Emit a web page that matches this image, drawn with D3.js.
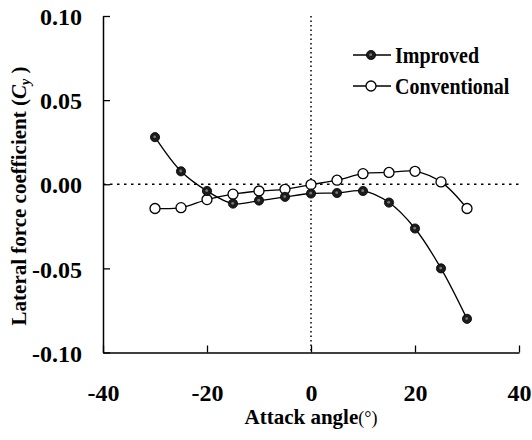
<!DOCTYPE html>
<html>
<head>
<meta charset="utf-8">
<script src="https://cdn.jsdelivr.net/npm/d3@7"></script>
<style>
  html, body { margin: 0; padding: 0; background: #fff; }
  svg { display: block; }
  text { font-family: "Liberation Serif", "Times New Roman", serif; font-weight: bold; fill: #000; }
</style>
</head>
<body>
<script>
// ---- data ----
const angles = [-30, -25, -20, -15, -10, -5, 0, 5, 10, 15, 20, 25, 30];
const improved = [0.028, 0.0077, -0.004, -0.0115, -0.0097, -0.0075, -0.0055, -0.0052, -0.004, -0.0109, -0.0263, -0.050, -0.080];
const conventional = [-0.0144, -0.0139, -0.0091, -0.0059, -0.004, -0.003, -0.0002, 0.0024, 0.0063, 0.007, 0.0077, 0.0014, -0.0144];
const xTicks = [-40, -20, 0, 20, 40];
const yTicks = [-0.10, -0.05, 0.00, 0.05, 0.10];
const seriesNames = ["Improved", "Conventional"];
const xTitle = "Attack angle";
const yTitle = "Lateral force coefficient";

// ---- layout ----
const W = 532, H = 440;
const mLeft = 103, mRight = 519, mTop = 16, mBottom = 352.5;

const svg = d3.select("body").append("svg").attr("width", W).attr("height", H);

const x = d3.scaleLinear().domain([-40, 40]).range([mLeft, mRight]);
const y = d3.scaleLinear().domain([-0.10, 0.10]).range([mBottom, mTop]);

// reference lines
svg.append("line")
  .attr("x1", x(-40)).attr("x2", x(40)).attr("y1", y(0)).attr("y2", y(0))
  .attr("stroke", "#000").attr("stroke-width", 1.6).attr("stroke-dasharray", "2.5,4.5");
svg.append("line")
  .attr("x1", x(0)).attr("x2", x(0)).attr("y1", y(0.10)).attr("y2", y(-0.10))
  .attr("stroke", "#000").attr("stroke-width", 1.5).attr("stroke-dasharray", "1.5,3");

// axes
const xAxis = d3.axisBottom(x).tickValues(xTicks).tickSizeInner(-7).tickSizeOuter(0).tickFormat(d3.format("d"));
const gx = svg.append("g").attr("transform", `translate(0,${mBottom})`).call(xAxis);
gx.select(".domain").attr("stroke", "#000").attr("stroke-width", 1.5);
gx.selectAll(".tick line").attr("stroke", "#000").attr("stroke-width", 1.3);
gx.selectAll(".tick text")
  .attr("font-size", 24).attr("font-family", "Liberation Serif").attr("font-weight", "bold")
  .attr("dy", null).attr("y", 48)
  .text(d => d < 0 ? "-" + Math.abs(d) : d);

const yAxis = d3.axisLeft(y).tickValues(yTicks).tickSizeInner(-7).tickSizeOuter(0).tickFormat(d3.format(".2f"));
const gy = svg.append("g").attr("transform", `translate(${mLeft},0)`).call(yAxis);
gy.select(".domain").attr("stroke", "#000").attr("stroke-width", 1.5);
gy.selectAll(".tick line").attr("stroke", "#000").attr("stroke-width", 1.3);
gy.selectAll(".tick text")
  .attr("font-size", 24).attr("font-family", "Liberation Serif").attr("font-weight", "bold")
  .attr("x", -21).attr("dy", "0.36em")
  .text(d => d < 0 ? "-" + Math.abs(d).toFixed(2) : d.toFixed(2));

// curves
const line = d3.line().x(d => x(d[0])).y(d => y(d[1])).curve(d3.curveCatmullRom.alpha(0.5));
const impData = angles.map((a, i) => [a, improved[i]]);
const conData = angles.map((a, i) => [a, conventional[i]]);

svg.append("path").attr("d", line(conData)).attr("fill", "none").attr("stroke", "#000").attr("stroke-width", 1.3);
svg.append("path").attr("d", line(impData)).attr("fill", "none").attr("stroke", "#000").attr("stroke-width", 1.3);

function filledMarker(g, cx, cy) {
  g.append("circle").attr("cx", cx).attr("cy", cy).attr("r", 4.6).attr("fill", "#1c1c1c").attr("stroke", "#000").attr("stroke-width", 0.8);
  g.append("circle").attr("cx", cx - 0.3).attr("cy", cy - 0.3).attr("r", 1.4).attr("fill", "#777");
}
function openMarker(g, cx, cy) {
  g.append("circle").attr("cx", cx).attr("cy", cy).attr("r", 5).attr("fill", "#fff").attr("stroke", "#000").attr("stroke-width", 1.3);
}

const gc = svg.append("g");
conData.forEach(d => openMarker(gc, x(d[0]), y(d[1])));
const gi = svg.append("g");
impData.forEach(d => filledMarker(gi, x(d[0]), y(d[1])));

// legend
const lg = svg.append("g");
const legendRows = [
  { name: seriesNames[0], cy: 55, kind: "filled" },
  { name: seriesNames[1], cy: 86, kind: "open" }
];
legendRows.forEach(r => {
  lg.append("line").attr("x1", 353).attr("x2", 391).attr("y1", r.cy).attr("y2", r.cy)
    .attr("stroke", "#000").attr("stroke-width", 1.3);
  if (r.kind === "filled") filledMarker(lg, 371, r.cy); else openMarker(lg, 371, r.cy);
  lg.append("text").attr("x", 395).attr("y", r.cy + 8)
    .attr("font-size", 20).attr("transform", `translate(0,${r.cy + 8}) scale(1,1.12) translate(0,${-(r.cy + 8)})`)
    .text(r.name);
});

// x title
const xt = svg.append("text").attr("x", 311).attr("y", 424).attr("text-anchor", "middle").attr("font-size", 21);
xt.append("tspan").text(xTitle);
xt.append("tspan").attr("font-weight", "normal").attr("font-size", 18).text("(°)");

// y title
const yt = svg.append("text")
  .attr("transform", `translate(26,196) rotate(-90)`)
  .attr("text-anchor", "middle").attr("font-size", 21);
yt.append("tspan").text(yTitle + " (");
yt.append("tspan").attr("font-style", "italic").text("C");
yt.append("tspan").attr("font-style", "italic").attr("font-size", 14).attr("dy", 4).text("y");
yt.append("tspan").attr("dy", -4).text(" )");
</script>
</body>
</html>
